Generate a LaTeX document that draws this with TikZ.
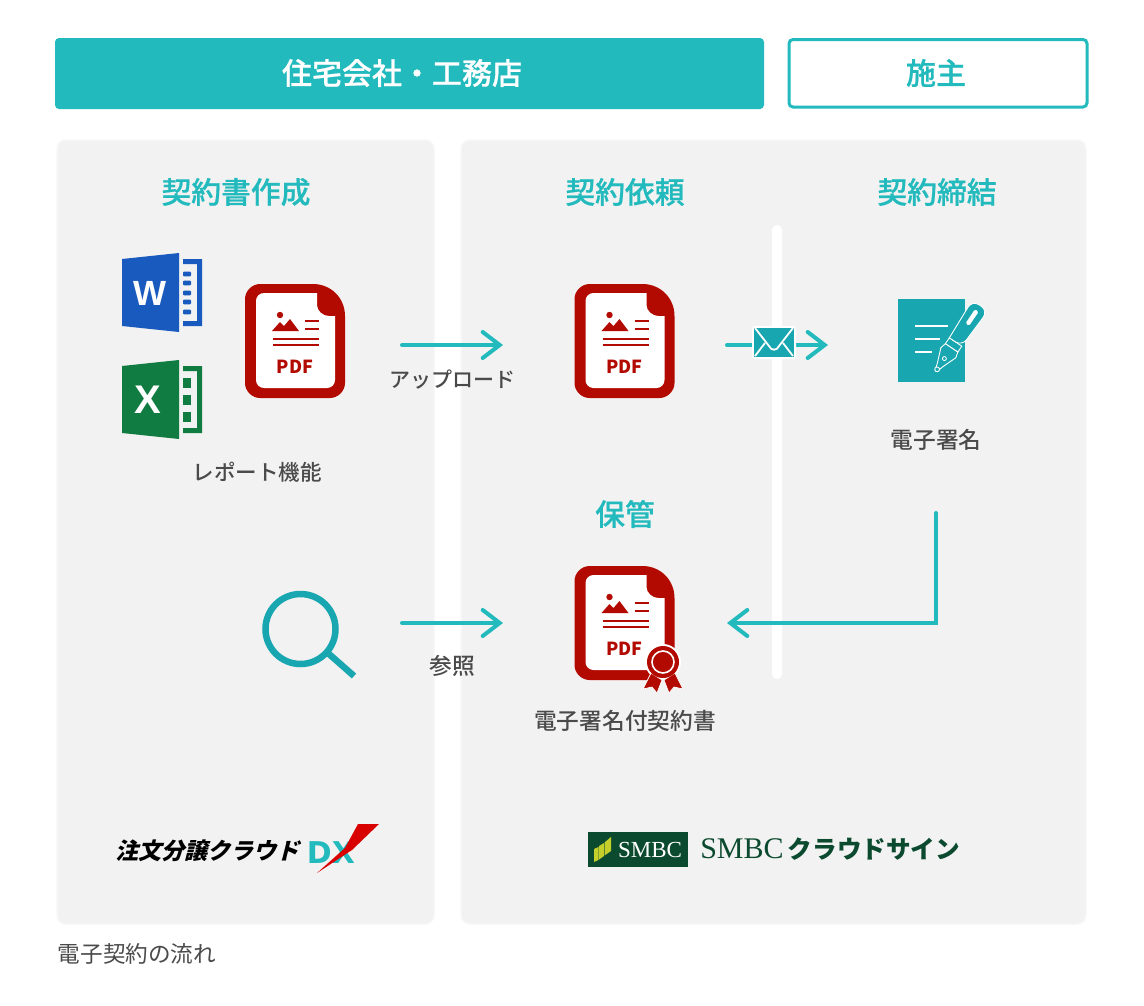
\documentclass[tikz,border=0pt]{standalone}
\usepackage{fontspec}
\usetikzlibrary{arrows.meta}
\setmainfont{Noto Sans CJK JP}[UprightFont={* Medium}, BoldFont={* Medium}]
\newfontfamily\latinfont{Liberation Sans}
\newfontfamily\widefont{DejaVu Sans}
\newfontfamily\serifpart{Liberation Serif}
\newfontfamily\plainjp{Noto Sans CJK JP}
\newfontfamily\titlefont{Noto Sans CJK JP Medium}[FakeBold=0.6]
\newfontfamily\logofont[BoldFeatures={FakeSlant=0.25}]{Noto Sans CJK JP}
\definecolor{headteal}{HTML}{22BABD}
\definecolor{iconteal}{HTML}{18A6B0}
\definecolor{panelgray}{HTML}{F2F2F2}
\definecolor{paneledge}{HTML}{F7F7F7}
\definecolor{pdfred}{HTML}{B20A00}
\definecolor{wordblue}{HTML}{185ABD}
\definecolor{excelgreen}{HTML}{107C41}
\definecolor{labelgray}{HTML}{4A4A4A}
\definecolor{smbcgreen}{HTML}{0B4A2E}
\definecolor{leafgreen}{HTML}{C5CF2B}
\newcommand{\px}[1]{\fontsize{#1}{#1}\selectfont}
\pgfdeclarearrow{
	name = Flow Barb,
	setup code = {
		\pgfarrowssettipend{3.3pt}
		\pgfarrowssetlineend{-1pt}
		\pgfarrowssetvisualbackend{-17pt}
		\pgfarrowssetbackend{-18pt}
		\pgfarrowshullpoint{3.3pt}{0pt}
		\pgfarrowshullpoint{-18pt}{14pt}
		\pgfarrowshullpoint{-18pt}{-14pt}
	},
	drawing code = {
		\pgfsetroundcap
		\pgfsetmiterjoin
		\pgfsetdash{}{0pt}
		\pgfpathmoveto{\pgfqpoint{-17pt}{13pt}}
		\pgfpathlineto{\pgfqpoint{0pt}{0pt}}
		\pgfpathlineto{\pgfqpoint{-17pt}{-13pt}}
		\pgfusepathqstroke
	}
}
\tikzset{
	pics/pdfdoc/.style={
		code = {
			\fill[pdfred] (18,-57) .. controls (36,-57) and (50,-43) .. (50,-25) -- (50,42) .. controls (50,50) and (43,57) .. (35,57) -- (-35,57) .. controls (-43,57) and (-50,50) .. (-50,42) -- (-50,-42) .. controls (-50,-50) and (-43,-57) .. (-35,-57) -- cycle;
			\fill[white] (22,-48) -- (22,-36) .. controls (22,-30) and (28,-25) .. (34,-25) -- (40,-25) -- (40,39) .. controls (40,43.5) and (36.5,47) .. (32,47) -- (-31,47) .. controls (-35.5,47) and (-39,43.5) .. (-39,39) -- (-39,-40) .. controls (-39,-44.5) and (-35.5,-48) .. (-31,-48) -- cycle;
			\fill[pdfred] (-15,-26) circle (3.2);
			\fill[pdfred] (-23,-10) -- (-15,-19) -- (-11,-15) -- (-5,-22) -- (4,-10) -- cycle;
			\draw[pdfred, line width=2pt] (10,-20) -- (24,-20) (10,-12) -- (24,-12) (-22,-2) -- (24,-2) (-22,4) -- (24,4);
			\node[text=pdfred, font=\plainjp\px{18}\bfseries] (-mark) at (0,26) {PDF};
		}
	},
	pics/wordicon/.style={
		code = {
			\fill[#1] (-28,-34) -- (29,-40) -- (29,39) -- (-28,33) -- cycle;
			\fill[#1] (33,-34) -- (52,-34) -- (52,33) -- (33,33) -- (33,28) -- (47,28) -- (47,-29) -- (33,-29) -- cycle;
		}
	},
	headbox/.style={rounded corners=4pt, font=\titlefont\px{30}},
	paneltitle/.style={text=headteal, font=\titlefont\px{29.8}},
	label/.style={text=labelgray, font=\px{22.7}},
	panel/.style={fill=panelgray, draw=paneledge, line width=1.5pt, rounded corners=9pt},
	flow/.style={draw=headteal, line width=4pt, line cap=round, -{Flow Barb}}
}
\begin{document}
\begin{tikzpicture}[x=1pt, y=-1pt]
	\useasboundingbox (0,0) rectangle (1144,1005);

	% header bars
	\fill[headteal, headbox] (55,38) rectangle (764,109);
	\node[text=white, headbox] (company) at (402,73) {住宅会社・工務店};
	\draw[draw=headteal, fill=white, line width=3pt, rounded corners=4pt] (789,39.5) rectangle (1087,107);
	\node[text=headteal, headbox] (owner) at (936,73) {施主};

	% panels
	\draw[panel] (57,140) rectangle (434,924);
	\draw[panel] (461,140) rectangle (1086,924);
	\fill[white, rounded corners=5pt] (772,225) rectangle (782,679);

	\node[paneltitle] (create) at (236,192) {契約書作成};
	\node[paneltitle] (request) at (625,192) {契約依頼};
	\node[paneltitle] (conclude) at (937,192) {契約締結};
	\node[paneltitle] (store) at (625,514) {保管};

	% office icons
	\pic (word) at (150,293) {wordicon=wordblue};
	\foreach \y in {-19,-10,0,9,19} {
		\fill[wordblue, rounded corners=1pt] (183,293+\y-2.4) rectangle (191,293+\y+2.4);
	}
	\node[text=white, font=\latinfont\px{35}\bfseries] (wordmark) at (150,293) {W};
	\pic (excel) at (150,400) {wordicon=excelgreen};
	\foreach \y in {-17,0,17} {
		\fill[excelgreen] (183,400+\y-5) rectangle (191,400+\y+5);
	}
	\node[text=white, font=\latinfont\px{40}\bfseries] (excelmark) at (148,399.5) {X};

	% pdf files
	\pic (pdfa) at (295,341) {pdfdoc};
	\pic (pdfb) at (624.5,341) {pdfdoc};
	\pic (pdfc) at (624.5,623) {pdfdoc};

	% seal
	\fill[white] (663,662) circle (18);
	\filldraw[fill=pdfred, draw=white, line width=0.7pt] (651,673) -- (643,689) -- (652,687) -- (657,693) -- (662,680) -- cycle;
	\filldraw[fill=pdfred, draw=white, line width=0.7pt] (675,673) -- (683,689) -- (674,687) -- (669,693) -- (664,680) -- cycle;
	\fill[pdfred] (663,662) circle (16);
	\draw[white, line width=1.6pt] (663,662) circle (11);

	% signed sheet
	\fill[iconteal] (898,299) rectangle (965,382);
	\draw[white, line width=2.6pt] (915,326) -- (948,326) (915,339) -- (940,339) (915,352) -- (932,352);
	\begin{scope}[shift={(936,371)}, rotate=56]
		\filldraw[fill=iconteal, draw=white, line width=0.9pt] (3,-2) -- (8,-3.5) -- (22,-9) -- (28,-7.5) -- (28,7.5) -- (22,9) -- (8,3.5) -- (3,2) -- cycle;
		\filldraw[fill=iconteal, draw=white, line width=0.9pt] (2,0) circle (2.4);
		\filldraw[fill=iconteal, draw=white, line width=0.9pt] (28,-7.5) rectangle (35,7.5);
		\filldraw[fill=iconteal, draw=white, line width=0.9pt, rounded corners=8pt] (35,-7.5) -- (79,-9.5) -- (79,9.5) -- (35,7.5) [sharp corners] -- cycle;
		\fill[white, rounded corners=1.5pt] (56,-2.2) rectangle (73,2.2);
		\draw[white, line width=0.8pt] (15,0) circle (2);
	\end{scope}
	\node[label] (signtext) at (936,440) {電子署名};

	% search icon
	\draw[iconteal, line width=6.5pt] (300.5,629) circle (35);
	\draw[iconteal, line width=6.5pt] (329,654) -- (354,676);

	% arrows
	\coordinate (uploadfrom) at (402,345);
	\coordinate (uploadto) at (503,345);
	\coordinate (lookfrom) at (402,623);
	\coordinate (lookto) at (503,623);
	\coordinate (sendfrom) at (727,345);
	\coordinate (sendto) at (828,345);
	\coordinate (signfrom) at (936,513);
	\coordinate (signbend) at (936,623);
	\coordinate (signto) at (727,623);
	\draw[flow] (uploadfrom) -- (uploadto);
	\draw[flow] (lookfrom) -- (lookto);
	\draw[flow] (sendfrom) -- (sendto);
	\draw[flow] (signfrom) -- (signbend) -- (signto);

	% envelope
	\fill[white, rounded corners=3pt] (752,326) rectangle (796,359);
	\fill[iconteal] (753.5,328) rectangle (794,357);
	\draw[white, line width=1.8pt] (755,328) -- (769,346) .. controls (771,351) and (777,351) .. (779,346) -- (793,328);
	\draw[white, line width=1.8pt] (755,356) -- (765,343) (793,356) -- (783,343);

	\node[label, font=\px{21}] (upload) at (452,380) {アップロード};
	\node[label] (refer) at (452,666) {参照};
	\node[label, font=\px{21.5}] (report) at (257,472) {レポート機能};
	\node[label] (signed) at (625,721) {電子署名付契約書};
	\node[label, font=\plainjp\px{22.6}] (caption) at (137,954) {電子契約の流れ};

	% left logo
	\node[font=\logofont\px{23}\bfseries] (bunjo) at (207,851) {注文分譲クラウド};
	\node[text=headteal, font=\widefont\px{30}\bfseries] (dx) at (331,853) {DX};
	\fill[red!85!black] (358,824) -- (379,824) -- (352,850) -- (317,873) -- (345,848) -- cycle;

	% right logo
	\fill[smbcgreen] (588,832) rectangle (688,867);
	\fill[leafgreen] (594,849) -- (598.5,847) -- (598.5,860) -- (594,862) -- cycle;
	\fill[leafgreen] (599,846) -- (604,843) -- (604,856) -- (599,859.5) -- cycle;
	\fill[leafgreen] (604.5,842.5) -- (611,837) -- (611,851) -- (604.5,855.5) -- cycle;
	\node[text=white, font=\serifpart\px{23}] (smbcbox) at (650,850) {SMBC};
	\node[text=smbcgreen, font=\serifpart\px{30}] (smbcname) at (742,849) {SMBC};
	\node[text=smbcgreen, font=\plainjp\px{24.6}\bfseries] (cloudsign) at (874,849) {クラウドサイン};
\end{tikzpicture}
\end{document}
